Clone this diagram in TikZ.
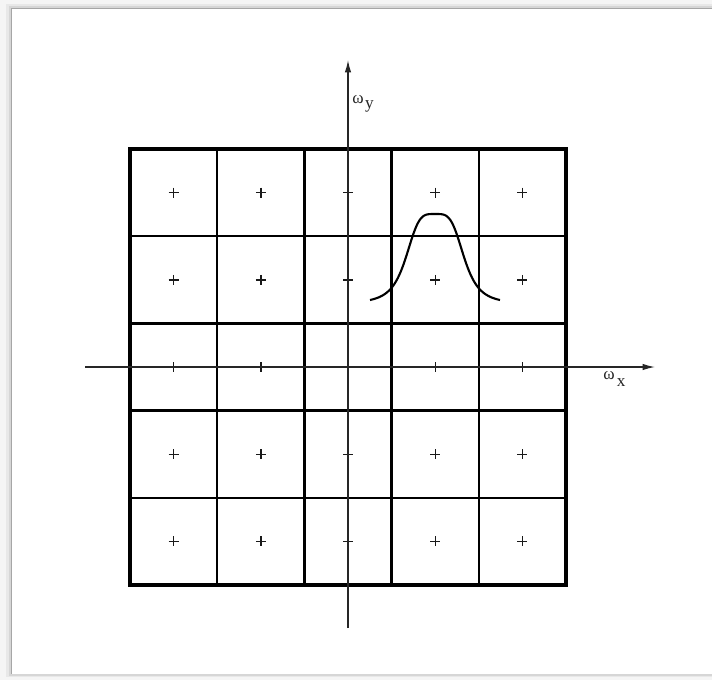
\documentclass[tikz,border=0pt]{standalone}
\usepackage{fontspec}
\setmainfont{Liberation Serif}
\usetikzlibrary{arrows.meta}
\begin{document}
\begin{tikzpicture}[x=0.02cm,y=-0.02cm,
  outer/.style={line width=2pt},
  inner/.style={line width=1.35pt},
  axis/.style={line width=0.7pt, black!85, -{Latex[length=7pt,width=3.6pt]}},
  plusmark/.style={line width=0.8pt, black!90},
  curve/.style={line width=1.2pt},
  lbl/.style={font=\fontsize{9.8}{12}\selectfont, inner sep=0pt, anchor=base west, text=black!85}]
\useasboundingbox (0,0) rectangle (712,680);
% page frame with soft shadow
\fill[black!4] (0,0) rectangle (712,680);
\fill[black!9] (6,4) rectangle (712,677);
\fill[black!16] (9,6) rectangle (712,675.5);
\fill[white] (11,8) rectangle (712,674);
\draw[black!35, line width=0.5pt] (11,674) -- (11,8) -- (712,8);
% grid
\foreach \i in {1,2,3,4} {
  \draw[inner] ({130+87.2*\i},149) -- ({130+87.2*\i},585);
  \draw[inner] (130,{149+87.2*\i}) -- (566,{149+87.2*\i});
}
\draw[outer] (130,149) rectangle (566,585);
% plus marks at cell centres
\foreach \i in {0,...,4} {
  \foreach \j in {0,...,4} {
    \draw[plusmark] ({173.6+87.2*\i-5},{192.6+87.2*\j}) -- ++(10,0)
                    ({173.6+87.2*\i},{192.6+87.2*\j-5}) -- ++(0,10);
  }
}
% axes
\coordinate (xl) at (85,367);
\coordinate (xr) at (655,367);
\coordinate (yb) at (348,628);
\coordinate (yt) at (348,60);
\draw[axis] (xl) -- (xr);
\draw[axis] (yb) -- (yt);
\node[lbl] (wy) at (352,103) {ω\kern0.8pt\raisebox{-3.4pt}{y}};
\node[lbl] (wx) at (603,379) {ω\kern1.2pt\raisebox{-4.4pt}{x}};
% bump
\draw[curve] plot[domain=-65:65, samples=90, smooth]
  ({435+\x}, {303.7-89.7/(1+((\x*\x)/876.2)*((\x*\x)/876.2))});
\end{tikzpicture}
\end{document}
